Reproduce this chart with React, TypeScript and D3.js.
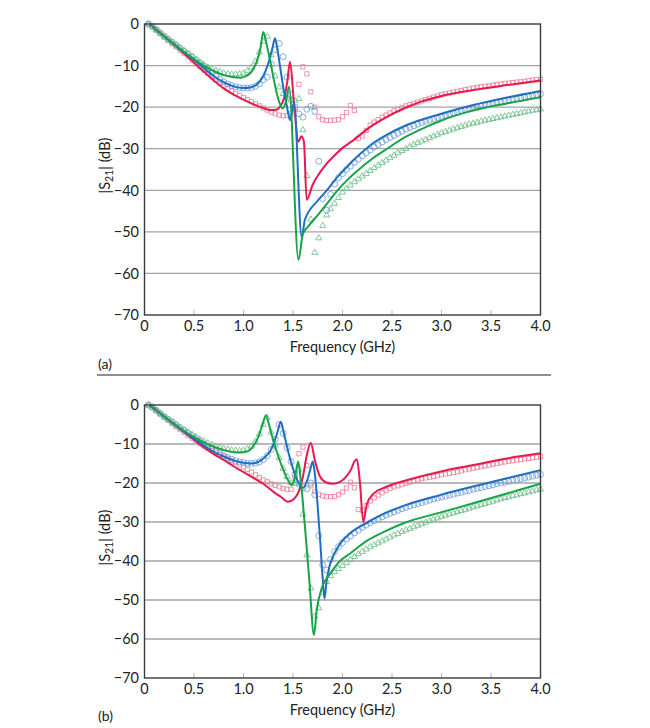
import React from "react";
import * as d3 from "d3";

// frequency axis (GHz) and |S21| axis (dB)
const xTicks = [0, 0.5, 1.0, 1.5, 2.0, 2.5, 3.0, 3.5, 4.0];
const xTickLabels = ["0", "0.5", "1.0", "1.5", "2.0", "2.5", "3.0", "3.5", "4.0"];
const yTicks = [0, -10, -20, -30, -40, -50, -60, -70];

// ---------- panel (a) : simulated curves ----------
const redFreqA = [0.05, 0.1, 0.2, 0.3, 0.4, 0.5, 0.6, 0.7, 0.8, 0.9, 1.0, 1.1, 1.2, 1.27, 1.33, 1.37, 1.41, 1.44, 1.47, 1.51, 1.555, 1.585, 1.61, 1.638, 1.7, 1.756, 1.84, 1.924, 2.0, 2.09, 2.26, 2.43, 2.63, 2.8, 3.0, 3.32, 3.66, 4.0];
const redA = [0, -1.0, -3.0, -5.0, -7.1, -9.3, -11.5, -13.6, -15.5, -17.0, -18.2, -19.3, -20.2, -20.7, -20.6, -19.9, -17.8, -14.3, -9.1, -19.0, -28.3, -27.0, -28.3, -42.3, -38.6, -36.3, -33.6, -31.5, -29.8, -28.3, -25.1, -22.6, -20.2, -18.6, -17.3, -15.9, -14.7, -13.6];

const blueFreqA = [0.05, 0.1, 0.2, 0.3, 0.4, 0.5, 0.6, 0.7, 0.8, 0.9, 1.0, 1.08, 1.15, 1.2, 1.25, 1.29, 1.318, 1.345, 1.37, 1.4, 1.436, 1.47, 1.51, 1.588, 1.62, 1.75, 1.85, 1.924, 2.0, 2.1, 2.2, 2.3, 2.45, 2.65, 3.0, 3.32, 3.66, 4.0];
const blueA = [0, -1.0, -3.0, -4.9, -6.8, -8.6, -10.6, -12.5, -14.0, -15.0, -15.4, -15.2, -14.2, -12.5, -9.5, -6.0, -3.45, -6.5, -10.3, -15.0, -19.5, -23.1, -19.0, -51.3, -47.1, -42.5, -39.8, -37.5, -35.5, -33.0, -30.8, -28.8, -26.6, -24.3, -21.6, -19.5, -17.7, -16.1];

const greenFreqA = [0.05, 0.1, 0.2, 0.3, 0.4, 0.5, 0.6, 0.7, 0.8, 0.9, 0.97, 1.03, 1.08, 1.13, 1.17, 1.2, 1.23, 1.27, 1.31, 1.35, 1.395, 1.43, 1.46, 1.555, 1.6, 1.65, 1.75, 1.85, 1.95, 2.05, 2.15, 2.3, 2.45, 2.65, 2.85, 3.0, 3.3, 3.66, 4.0];
const greenA = [0, -1.0, -3.0, -4.9, -6.7, -8.4, -10.0, -11.3, -12.3, -12.8, -12.9, -12.5, -11.5, -9.3, -6.0, -1.9, -4.5, -8.9, -13.8, -18.0, -20.3, -18.5, -15.1, -56.7, -50.5, -48.8, -46.0, -43.0, -40.0, -37.5, -35.3, -32.4, -30.0, -27.0, -24.7, -23.2, -20.9, -19.1, -17.6];

// ---------- panel (b) : simulated curves ----------
const redFreqB = [0.05, 0.1, 0.2, 0.3, 0.4, 0.5, 0.6, 0.7, 0.8, 0.9, 1.0, 1.1, 1.2, 1.3, 1.38, 1.45, 1.51, 1.56, 1.6, 1.64, 1.68, 1.72, 1.77, 1.83, 1.9, 1.975, 2.04, 2.09, 2.12, 2.145, 2.175, 2.21, 2.245, 2.31, 2.41, 2.5, 2.645, 2.985, 3.32, 3.66, 4.0];
const redB = [0, -1.0, -3.0, -5.0, -6.9, -8.9, -10.9, -12.6, -14.1, -15.7, -17.2, -18.7, -20.2, -22.2, -23.6, -24.8, -24.1, -22.0, -18.4, -12.8, -9.7, -14.1, -18.2, -19.8, -20.2, -19.7, -18.3, -16.3, -14.5, -13.9, -19.5, -30.0, -25.5, -22.8, -21.3, -20.4, -19.3, -17.1, -15.4, -13.7, -12.4];

const blueFreqB = [0.05, 0.1, 0.2, 0.3, 0.4, 0.5, 0.6, 0.7, 0.8, 0.9, 1.0, 1.08, 1.15, 1.22, 1.27, 1.31, 1.345, 1.376, 1.41, 1.45, 1.5, 1.55, 1.604, 1.65, 1.68, 1.7, 1.72, 1.745, 1.775, 1.8, 1.818, 1.84, 1.87, 1.92, 1.975, 2.076, 2.245, 2.41, 2.645, 2.985, 3.32, 3.66, 4.0];
const blueB = [0, -1.0, -3.0, -4.9, -6.8, -8.6, -10.4, -12.0, -13.2, -14.2, -14.8, -15.0, -14.6, -13.3, -11.8, -9.5, -6.8, -4.3, -7.5, -11.8, -16.3, -19.6, -21.2, -18.8, -16.0, -14.5, -17.5, -24.5, -35.0, -44.5, -49.6, -45.0, -41.2, -38.0, -35.6, -32.9, -30.2, -28.0, -25.6, -23.1, -20.9, -18.8, -16.7];

const greenFreqB = [0.05, 0.1, 0.2, 0.3, 0.4, 0.5, 0.6, 0.7, 0.8, 0.9, 0.97, 1.04, 1.1, 1.15, 1.19, 1.227, 1.26, 1.3, 1.35, 1.4, 1.45, 1.487, 1.52, 1.553, 1.58, 1.62, 1.665, 1.712, 1.74, 1.79, 1.874, 1.975, 2.08, 2.26, 2.43, 2.63, 2.985, 3.32, 3.66, 4.0];
const greenB = [0, -1.0, -3.0, -4.9, -6.6, -8.2, -9.6, -10.7, -11.5, -12.1, -12.2, -11.9, -10.5, -8.2, -5.2, -2.6, -5.3, -9.0, -13.0, -16.5, -19.3, -20.5, -18.5, -14.5, -19.8, -31.0, -45.0, -59.0, -52.5, -47.0, -43.3, -40.0, -38.0, -34.6, -32.4, -30.2, -27.6, -25.2, -22.7, -20.2];

// ---------- measured points, every 0.04 GHz from 0.04 to 4.00 ----------
const markerFreq = d3.range(1, 101).map((k) => +(k * 0.04).toFixed(2));

const squaresA = [
  0, -0.6, -1.4, -2.3, -3.1, -3.9, -4.7, -5.5, -6.3, -7.1,
  -7.9, -8.7, -9.5, -10.3, -11.1, -11.9, -12.7, -13.5, -14.2, -14.9,
  -15.5, -16.1, -16.7, -17.2, -17.7, -18.2, -18.7, -19.2, -19.7, -20.2,
  -20.7, -21.2, -21.6, -21.9, -22.1, -22.0, -21.6, -20.5, -14.5, -10.3,
  -12.0, -16.3, -20.0, -22.3, -23.0, -23.2, -23.2, -23.1, -23.0, -22.3,
  -21.3, -19.6, -20.8, -27.5, -26.9, -25.6, -24.3, -23.6, -23.0, -22.4,
  -21.9, -21.4, -20.9, -20.5, -20.1, -19.7, -19.4, -19.1, -18.8, -18.5,
  -18.2, -17.9, -17.6, -17.3, -17.0, -16.8, -16.6, -16.4, -16.2, -16.0,
  -15.8, -15.6, -15.4, -15.3, -15.1, -15.0, -14.9, -14.7, -14.6, -14.4,
  -14.3, -14.2, -14.1, -14.0, -13.9, -13.8, -13.6, -13.5, -13.4, -13.3,
];
const circlesA = [
  0, -0.6, -1.4, -2.2, -3.0, -3.7, -4.4, -5.1, -5.8, -6.5,
  -7.2, -7.9, -8.6, -9.4, -10.2, -11.0, -11.8, -12.6, -13.3, -13.9,
  -14.4, -14.8, -15.1, -15.3, -15.4, -15.4, -15.3, -15.0, -14.4, -13.4,
  -12.8, -9.6, -6.2, -4.7, -7.9, -12.8, -17.0, -20.0, -21.6, -22.4,
  -20.5, -19.8, -21.0, -33.0, -42.0, -44.8, -41.0, -38.5, -37.0, -36.0,
  -35.0, -34.2, -33.3, -32.5, -31.7, -31.0, -30.3, -29.6, -29.0, -28.4,
  -27.8, -27.3, -26.8, -26.3, -25.8, -25.3, -24.9, -24.5, -24.1, -23.7,
  -23.4, -23.1, -22.8, -22.5, -22.2, -21.9, -21.6, -21.4, -21.2, -20.9,
  -20.7, -20.5, -20.3, -20.1, -19.8, -19.6, -19.4, -19.2, -19.0, -18.8,
  -18.6, -18.4, -18.2, -18.0, -17.8, -17.6, -17.4, -17.2, -17.0, -16.8,
];
const trianglesA = [
  0, -0.6, -1.4, -2.2, -3.0, -3.7, -4.4, -5.1, -5.8, -6.5,
  -7.2, -7.9, -8.6, -9.2, -9.8, -10.4, -10.8, -11.2, -11.5, -11.8,
  -12.0, -12.1, -12.1, -12.0, -11.8, -11.3, -10.4, -9.0, -6.8, -4.2,
  -3.0, -7.5, -12.5, -15.2, -16.8, -17.8, -18.3, -18.5, -18.0, -25.5,
  -36.5, -47.0, -55.0, -51.5, -48.5, -46.0, -44.5, -43.2, -41.8, -40.5,
  -39.6, -38.8, -38.0, -37.3, -36.6, -36.0, -35.3, -34.6, -34.0, -33.4,
  -32.8, -32.2, -31.6, -31.0, -30.5, -30.0, -29.5, -29.0, -28.6, -28.2,
  -27.8, -27.4, -27.0, -26.6, -26.2, -25.9, -25.6, -25.3, -25.0, -24.7,
  -24.4, -24.1, -23.9, -23.7, -23.4, -23.2, -23.0, -22.8, -22.6, -22.4,
  -22.2, -22.0, -21.8, -21.6, -21.4, -21.2, -21.0, -20.8, -20.7, -20.5,
];

const squaresB = [
  0, -0.6, -1.4, -2.3, -3.1, -3.9, -4.7, -5.5, -6.3, -7.0,
  -7.8, -8.5, -9.2, -9.9, -10.5, -11.1, -11.7, -12.2, -12.7, -13.2,
  -13.7, -14.3, -14.8, -15.3, -15.9, -16.5, -17.2, -17.9, -18.6, -19.2,
  -19.7, -20.2, -20.6, -21.0, -21.4, -21.6, -21.6, -18.5, -12.5, -10.8,
  -15.5, -20.7, -22.2, -22.9, -23.3, -23.5, -23.5, -23.5, -23.0, -22.3,
  -21.3, -19.8, -21.2, -26.8, -27.0, -25.8, -24.6, -23.8, -23.1, -22.5,
  -21.9, -21.4, -21.0, -20.7, -20.4, -20.1, -19.8, -19.5, -19.2, -18.9,
  -18.7, -18.5, -18.3, -18.1, -17.9, -17.7, -17.5, -17.3, -17.1, -16.9,
  -16.6, -16.4, -16.2, -16.0, -15.8, -15.6, -15.4, -15.2, -15.0, -14.8,
  -14.6, -14.4, -14.3, -14.1, -14.0, -13.8, -13.7, -13.5, -13.4, -13.2,
];
const circlesB = [
  0, -0.6, -1.4, -2.2, -3.0, -3.7, -4.4, -5.1, -5.8, -6.5,
  -7.2, -7.9, -8.6, -9.3, -10.0, -10.7, -11.3, -11.9, -12.5, -13.0,
  -13.5, -13.9, -14.3, -14.6, -14.8, -15.0, -15.0, -14.9, -14.6, -14.0,
  -13.0, -11.4, -8.8, -5.0, -7.3, -11.0, -14.5, -17.8, -20.2, -21.2,
  -21.5, -20.0, -23.0, -33.5, -41.0, -42.3, -39.6, -37.6, -36.3, -35.3,
  -34.4, -33.6, -32.8, -32.1, -31.4, -30.8, -30.2, -29.7, -29.2, -28.7,
  -28.2, -27.8, -27.4, -27.0, -26.6, -26.3, -25.9, -25.6, -25.3, -25.0,
  -24.7, -24.4, -24.1, -23.9, -23.6, -23.4, -23.1, -22.9, -22.6, -22.4,
  -22.1, -21.9, -21.6, -21.4, -21.2, -20.9, -20.7, -20.5, -20.2, -20.0,
  -19.8, -19.6, -19.3, -19.1, -18.9, -18.7, -18.5, -18.2, -18.0, -17.8,
];
const trianglesB = [
  0, -0.6, -1.4, -2.2, -3.0, -3.7, -4.4, -5.1, -5.8, -6.4,
  -7.0, -7.6, -8.2, -8.8, -9.3, -9.8, -10.2, -10.6, -10.9, -11.2,
  -11.4, -11.6, -11.7, -11.7, -11.6, -11.3, -10.6, -9.4, -7.5, -5.0,
  -3.2, -7.0, -10.3, -13.5, -16.3, -18.4, -20.0, -20.2, -16.5, -28.0,
  -38.5, -47.0, -54.2, -52.0, -48.0, -45.3, -43.8, -42.8, -42.0, -41.2,
  -40.4, -39.6, -38.9, -38.2, -37.6, -37.0, -36.4, -35.9, -35.4, -34.9,
  -34.4, -33.9, -33.4, -33.0, -32.5, -32.1, -31.7, -31.3, -30.9, -30.5,
  -30.1, -29.7, -29.3, -29.0, -28.6, -28.3, -28.0, -27.7, -27.4, -27.1,
  -26.8, -26.5, -26.2, -25.9, -25.6, -25.3, -25.0, -24.7, -24.4, -24.1,
  -23.8, -23.6, -23.3, -23.1, -22.8, -22.6, -22.3, -22.1, -21.8, -21.6,
];

const RED = "#e8194f";
const BLUE = "#1f6fc1";
const GREEN = "#17a34a";
const RED_PT = "#f07f98";
const BLUE_PT = "#6f9dd8";
const GREEN_PT = "#6cbd85";
const FONT = "Lato, 'Open Sans', sans-serif";
const FS = 14.5;

const plotLeft = 144.5;
const plotRight = 540.5;

const zip = (xs: number[], ys: number[]) => xs.map((x, i) => [x, ys[i]] as [number, number]);

function Panel(props: any) {
  const { top, bottom, tag, tagY, lines, markers } = props;
  const x = d3.scaleLinear().domain([0, 4]).range([plotLeft, plotRight]);
  const y = d3.scaleLinear().domain([-70, 0]).range([bottom, top]);
  const line = d3
    .line<[number, number]>()
    .x((d) => x(d[0]))
    .y((d) => y(d[1]))
    .curve(d3.curveMonotoneX);

  const symbolPath = (type: any, size: number) => d3.symbol().type(type).size(size)() as string;
  const shapes: any = {
    square: symbolPath(d3.symbolSquare, 18),
    circle: symbolPath(d3.symbolCircle, 28),
    triangle: symbolPath(d3.symbolTriangle, 16),
  };

  const midY = (top + bottom) / 2;

  return (
    <g>
      {/* grid */}
      {yTicks.slice(1, -1).map((t) => (
        <line key={t} x1={plotLeft} x2={plotRight} y1={y(t)} y2={y(t)} stroke="#a3a3a3" strokeWidth={1.3} />
      ))}
      {xTicks.slice(1, -1).map((t) => (
        <line key={t} x1={x(t)} x2={x(t)} y1={bottom} y2={bottom - 5} stroke="#b5b5b5" strokeWidth={1} />
      ))}

      {/* measured */}
      {markers.map((m: any, i: number) => (
        <g key={i} fill="none" stroke={m.color} strokeWidth={0.85}>
          {m.values.map((v: number, j: number) => (
            <path key={j} d={shapes[m.shape]} transform={`translate(${x(markerFreq[j])},${y(v)})`} />
          ))}
        </g>
      ))}

      {/* simulated */}
      {lines.map((l: any, i: number) => (
        <path key={i} d={line(zip(l.freq, l.values)) as string} fill="none" stroke={l.color} strokeWidth={2} strokeLinejoin="round" />
      ))}

      {/* frame */}
      <rect x={plotLeft} y={top} width={plotRight - plotLeft} height={bottom - top} fill="none" stroke="#3a3a3a" strokeWidth={1.4} />

      {/* tick labels */}
      {yTicks.map((t) => (
        <text key={t} x={139} y={y(t)} dy="0.36em" textAnchor="end" fontSize={FS} fontFamily={FONT} fill="#222">
          {t === 0 ? "0" : "\u2212" + Math.abs(t)}
        </text>
      ))}
      {xTicks.map((t, i) => (
        <text key={t} x={x(t)} y={bottom + 15.5} textAnchor="middle" fontSize={FS} fontFamily={FONT} fill="#222">
          {xTickLabels[i]}
        </text>
      ))}

      <text x={(plotLeft + plotRight) / 2} y={bottom + 37} textAnchor="middle" fontSize={FS} fontFamily={FONT} fill="#222">
        Frequency (GHz)
      </text>
      <text transform={`translate(110,${midY - 4}) rotate(-90)`} textAnchor="middle" fontSize={FS} fontFamily={FONT} fill="#222">
        |S<tspan fontSize={10.5} dy={3}>21</tspan>
        <tspan dy={-3}>| (dB)</tspan>
      </text>
      <text x={98} y={tagY} fontSize={FS - 0.5} fontFamily={FONT} fill="#222">
        {tag}
      </text>
    </g>
  );
}

export default function App() {
  const linesA = [
    { freq: redFreqA, values: redA, color: RED },
    { freq: blueFreqA, values: blueA, color: BLUE },
    { freq: greenFreqA, values: greenA, color: GREEN },
  ];
  const linesB = [
    { freq: redFreqB, values: redB, color: RED },
    { freq: blueFreqB, values: blueB, color: BLUE },
    { freq: greenFreqB, values: greenB, color: GREEN },
  ];
  const markersA = [
    { values: squaresA, shape: "square", color: RED_PT },
    { values: circlesA, shape: "circle", color: BLUE_PT },
    { values: trianglesA, shape: "triangle", color: GREEN_PT },
  ];
  const markersB = [
    { values: squaresB, shape: "square", color: RED_PT },
    { values: circlesB, shape: "circle", color: BLUE_PT },
    { values: trianglesB, shape: "triangle", color: GREEN_PT },
  ];

  return (
    <div style={{ position: "absolute", left: 0, top: 0 }}>
      <svg width={650} height={728} style={{ display: "block", background: "#fff" }}>
        <Panel top={24} bottom={315} tag="(a)" tagY={369} lines={linesA} markers={markersA} />
        <line x1={97} x2={551} y1={375} y2={375} stroke="#222" strokeWidth={1.2} />
        <Panel top={405} bottom={678} tag="(b)" tagY={721} lines={linesB} markers={markersB} />
      </svg>
    </div>
  );
}
